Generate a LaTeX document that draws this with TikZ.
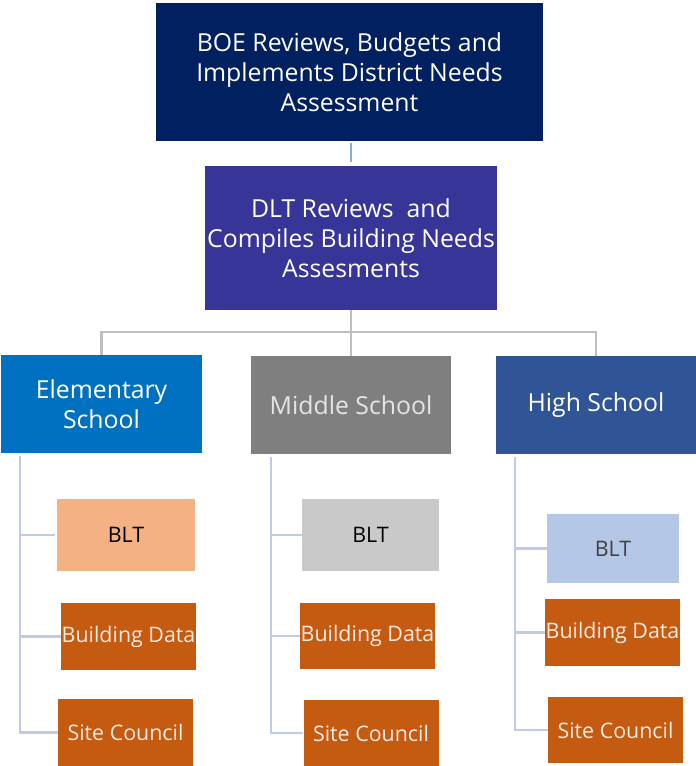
\documentclass[tikz,border=0pt]{standalone}
\usepackage{fontspec}
\setmainfont{Open Sans}
\usetikzlibrary{positioning}

\definecolor{boeblue}{HTML}{002060}
\definecolor{dltblue}{HTML}{373597}
\definecolor{elemblue}{HTML}{0070C0}
\definecolor{midgrey}{HTML}{7F7F7F}
\definecolor{highblue}{HTML}{2F5597}
\definecolor{rust}{HTML}{C55A11}
\definecolor{peach}{HTML}{F4B183}
\definecolor{silver}{HTML}{C9C9C9}
\definecolor{paleblue}{HTML}{B4C7E7}
\definecolor{treegrey}{HTML}{BFBFBF}
\definecolor{branchblue}{HTML}{BFCCE8}
\definecolor{linkblue}{HTML}{8FAADC}

\tikzset{
  box/.style={rectangle,inner sep=0pt,align=center,
    font=\fontsize{24.8}{30}\selectfont},
  smallbox/.style={rectangle,inner sep=0pt,align=center,
    font=\fontsize{21.4}{26}\selectfont},
  datab/.style={smallbox,fill=rust,text=rust!12!white,
    minimum width=135pt,minimum height=67pt},
  tree/.style={draw=treegrey,line width=2.5pt},
  branch/.style={draw=branchblue,line width=2.5pt},
}

\begin{document}
\begin{tikzpicture}[x=1pt,y=-1pt]
  \useasboundingbox (0,0) rectangle (696,766);
  \node(boe)[box,fill=boeblue,text=white,minimum width=387pt,minimum height=138pt]
    at (349.5,72) {BOE Reviews, Budgets and\\Implements District Needs\\Assessment};
  \node(dlt)[box,fill=dltblue,text=white,minimum width=292pt,minimum height=144pt]
    at (351,238) {DLT Reviews\ \ and\\Compiles Building Needs\\Assesments};
  \node(elem)[box,fill=elemblue,text=white,minimum width=201pt,minimum height=98pt]
    at (101.5,404) {Elementary\\School};
  \node(mid)[box,fill=midgrey,text=white!90!black,minimum width=200pt,minimum height=98pt]
    at (351,405) {Middle School};
  \node(high)[box,fill=highblue,text=white,minimum width=200pt,minimum height=98pt]
    at (596,405) {High School};
  % elementary
  \node(eblt)[smallbox,fill=peach,text=black,minimum width=138pt,minimum height=72pt]
    at (126,535) {BLT};
  \node(ebd)[datab] at (128.5,636.5) {Building Data};
  \node(esc)[datab] at (125.5,732.5) {Site Council};
  % middle
  \node(mblt)[smallbox,fill=silver,text=black,minimum width=137pt,minimum height=72pt]
    at (370.5,535) {BLT};
  \node(mbd)[datab,minimum height=66pt] at (367.5,636) {Building Data};
  \node(msc)[datab,minimum height=66pt] at (371,733) {Site Council};
  % high
  \node(hblt)[smallbox,fill=paleblue,text=black!75,minimum width=132pt,minimum height=69pt]
    at (613,548.5) {BLT};
  \node(hbd)[datab] at (612.5,632.5) {Building Data};
  \node(hsc)[datab,minimum height=66pt] at (615.5,730) {Site Council};

  \coordinate(bus) at (351,332);
  \coordinate(etop) at (20,456);
  \coordinate(mtop) at (271,457);
  \coordinate(htop) at (515,457);

\draw[draw=linkblue,line width=2.5pt]([yshift=-2pt]boe.south -| dlt.north)--([yshift=4pt]dlt.north);
\draw[tree](dlt.south)--(bus);
\draw[tree](bus)-|(elem.north);
\draw[tree](bus)-|(high.north);
\draw[tree](bus)--(mid.north);
\draw[branch](etop)|-([xshift=-2pt]eblt.west);
\draw[branch](etop)|-(ebd.west);
\draw[branch](etop)|-(esc.west);
\draw[branch](mtop)|-(mblt.west);
\draw[branch](mtop)|-(mbd.west);
\draw[branch](mtop)|-(msc.west);
\draw[branch](htop)|-(hblt.west);
\draw[branch](htop)|-(hbd.west);
\draw[branch](htop)|-(hsc.west);
\end{tikzpicture}
\end{document}
